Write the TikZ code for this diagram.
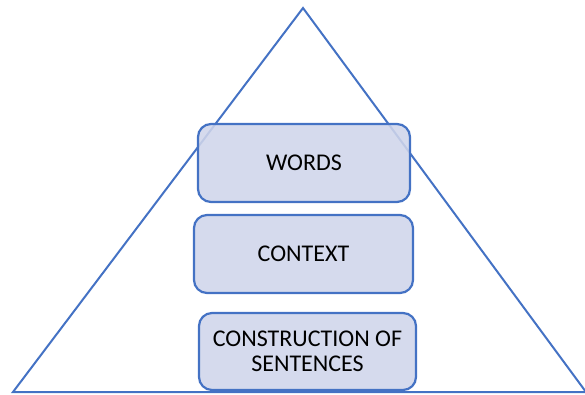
\documentclass[tikz,border=0pt]{standalone}
\usepackage{fontspec}
\setmainfont{Carlito}
\definecolor{edge}{RGB}{68,114,196}
\definecolor{tier}{RGB}{207,213,234}
\tikzset{
  tierbox/.style={draw=edge, line width=2.2pt, fill=tier, fill opacity=0.88, text opacity=1,
    rounded corners=13pt, align=center, font=\fontsize{24}{25}\selectfont, inner sep=0pt},
  outline/.style={draw=edge, line width=2pt, line join=miter}
}
\begin{document}
\begin{tikzpicture}[x=1pt,y=-1pt]
  \useasboundingbox (0,0) rectangle (585,394);
  % pyramid outline
  \coordinate (apex) at (303,8);
  \coordinate (bl) at (13,392);
  \coordinate (br) at (586,392);
  \draw[outline] (apex) -- (bl) -- (br) -- cycle;
  % tiers
  \node[tierbox, minimum width=212pt, minimum height=78pt] (words) at (304,163) {WORDS};
  \node[tierbox, minimum width=219pt, minimum height=78pt] (context) at (303.5,254) {CONTEXT};
  \node[tierbox, minimum width=217pt, minimum height=77pt] (constr) at (307.5,351.5) {CONSTRUCTION OF\\SENTENCES};
\end{tikzpicture}
\end{document}
